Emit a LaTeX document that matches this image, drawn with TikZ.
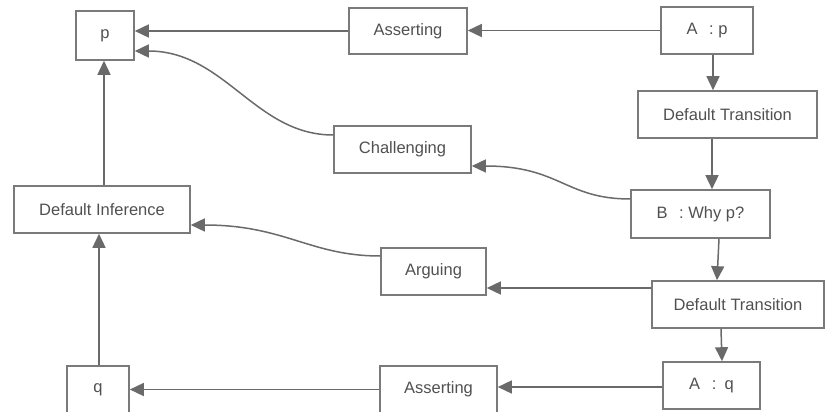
\documentclass[tikz,border=0pt]{standalone}
\usepackage{fontspec}
\setmainfont{Liberation Sans}
\usetikzlibrary{arrows.meta}
\definecolor{boxline}{HTML}{7A7A7A}
\definecolor{boxtext}{HTML}{505050}
\definecolor{wire}{HTML}{6A6A6A}
\begin{document}
\begin{tikzpicture}[x=1pt,y=-1pt,
  box/.style={draw=boxline,line width=1.6pt,inner sep=0pt,text=boxtext,
    font=\fontsize{16.5}{19}\selectfont},
  link/.style={draw=wire,line width=1.5pt,
    -{Triangle[length=14pt,width=13pt]}}]
\useasboundingbox (0,0) rectangle (825,412);
% boxes
\node[box,minimum width=58pt,minimum height=49pt] (p) at (105,35.5) {p};
\node[box,minimum width=118pt,minimum height=46pt] (asrtA) at (408,31) {Asserting};
\node[box,minimum width=92pt,minimum height=47pt] (Ap) at (707,30.5) {A\hspace{0.7em}: p};
\node[box,minimum width=179pt,minimum height=47pt] (dtA) at (727.5,114.5) {Default Transition};
\node[box,minimum width=137pt,minimum height=47pt] (chal) at (402.5,149.5) {Challenging};
\node[box,minimum width=139pt,minimum height=48pt] (B) at (700.5,214) {B\hspace{0.7em}: Why p?};
\node[box,minimum width=176pt,minimum height=47pt] (dinf) at (102,209.5) {Default Inference};
\node[box,minimum width=105pt,minimum height=47pt] (arg) at (433.5,271.5) {Arguing};
\node[box,minimum width=172pt,minimum height=47pt] (dtB) at (738,304.5) {Default Transition};
\node[box,minimum width=62pt,minimum height=47pt] (q) at (98,389.5) {q};
\node[box,minimum width=117pt,minimum height=47pt] (asrtB) at (438.5,389.5) {Asserting};
\node[box,minimum width=97pt,minimum height=47pt] (Aq) at (711.5,385.5) {A\hspace{0.7em}:\hspace{0.5em}q};
% connectors
\draw[link] (Ap.west) -- (Ap.west -| asrtA.east);
\draw[link] (asrtA.west) -- (asrtA.west -| p.east);
\draw[link] ([yshift=14.5pt]chal.west) .. controls (255,135) and (225,51) .. ([yshift=-15.5pt]p.east);
\draw[link] ([xshift=6pt]Ap.south) -- ([xshift=-14.5pt]dtA.north);
\draw[link] ([xshift=-15.5pt]dtA.south) -- ([xshift=11.5pt]B.north);
\draw[link] ([yshift=15pt]B.west) .. controls (565,199) and (560,166) .. ([yshift=-16.5pt]chal.east);
\draw[link] ([xshift=18.5pt]B.south) -- ([xshift=-21pt]dtB.north);
\draw[link] ([yshift=16.5pt]dtB.west) -- ([yshift=16.5pt]dtB.west -| arg.east);
\draw[link] ([yshift=15.5pt]arg.west) .. controls (310,256) and (285,225) .. ([yshift=-15.5pt]dinf.east);
\draw[link] ([xshift=2pt]dinf.north) -- ([xshift=-1pt]p.south);
\draw[link] ([xshift=1pt]q.north) -- ([xshift=-3pt]dinf.south);
\draw[link] ([xshift=-17pt]dtB.south) -- ([xshift=10.5pt]Aq.north);
\draw[link] ([yshift=-1.5pt]Aq.west) -- ([yshift=-1.5pt]Aq.west -| asrtB.east);
\draw[link] (asrtB.west) -- (asrtB.west -| q.east);
\end{tikzpicture}
\end{document}
